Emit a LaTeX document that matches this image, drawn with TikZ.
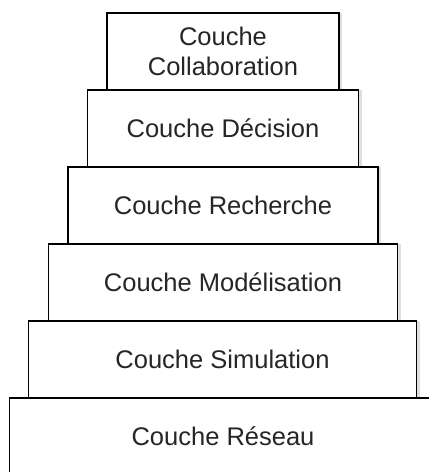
\documentclass[tikz,border=0pt]{standalone}
\usepackage{fontspec}
\setmainfont{Liberation Sans}
\usetikzlibrary{shadows}

\begin{document}
\begin{tikzpicture}[x=1pt, y=-1pt,
        couche/.style={draw, line width=1.6pt, fill=white, inner sep=0pt,
            minimum height=77pt, align=center, text=black!85,
            font=\fontsize{25.5}{30}\selectfont,
            drop shadow={shadow xshift=3pt, shadow yshift=0pt, opacity=0.25}}]
        \useasboundingbox (0, 0) rectangle (429, 472);
        \fill[white] (0, 0) rectangle (429, 472);

        \node[couche, minimum width=232pt] (collab) at (223, 51.5) {Couche\\Collaboration};
        \node[couche, minimum width=271pt] (decision) at (223, 128.5) {Couche Décision};
        \node[couche, minimum width=310pt] (recherche) at (223, 205.5) {Couche Recherche};
        \node[couche, minimum width=349pt] (modelisation) at (223, 282.5) {Couche Modélisation};
        \node[couche, minimum width=388pt] (simulation) at (222.5, 359.5) {Couche Simulation};
        \node[couche, minimum width=427pt] (reseau) at (223, 436.5) {Couche Réseau};
    \end{tikzpicture}
\end{document}
